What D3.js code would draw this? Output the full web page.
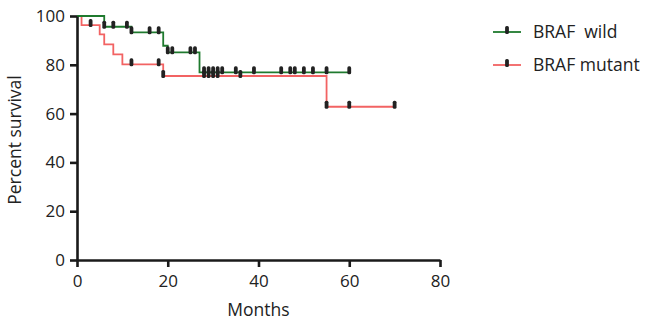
<!DOCTYPE html>
<html>
<head>
<meta charset="utf-8">
<script src="https://cdn.jsdelivr.net/npm/d3@7.9.0/dist/d3.min.js"></script>
<style>
  html, body { margin: 0; padding: 0; background: #fff; }
  svg { display: block; font-family: "Open Sans", "Noto Sans", sans-serif; }
  .axis path, .axis line { stroke: #1a1a1a; stroke-width: 2.6; }
  .axis text { font-size: 17px; fill: #222; font-family: "Open Sans", "Noto Sans", sans-serif; }
  .axis-label { font-size: 17.5px; fill: #222; }
  .legend-text { font-size: 17.5px; fill: #222; white-space: pre; }
</style>
</head>
<body>
<div id="chart"></div>
<script>
// Kaplan-Meier steps: [month, percent surviving]
const wildSteps = [[0, 100], [6, 95.6], [12, 93.3], [19, 87.8], [20, 85.1], [27, 76.9], [60, 76.9]];
const mutantSteps = [[0, 100], [1, 96.3], [5, 92.5], [6, 88.4], [8, 84.3], [10, 80.2], [19, 75.4], [55, 62.8], [70, 62.8]];

// censored observations (months)
const wildCensored = [6, 8, 11, 12, 16, 18, 20, 21, 25, 26, 28, 29, 30, 31, 32, 35, 39, 45, 47, 48, 50, 52, 55, 60];
const mutantCensored = [3, 12, 18, 19, 28, 29, 30, 31, 36, 55, 60, 70];

const xTicks = [0, 20, 40, 60, 80];
const yTicks = [0, 20, 40, 60, 80, 100];

const groups = [
  { name: 'BRAF  wild', steps: wildSteps, censored: wildCensored, color: '#1f7a2e' },
  { name: 'BRAF mutant', steps: mutantSteps, censored: mutantCensored, color: '#f26363' },
];

const width = 649;
const height = 320;

const x = d3.scaleLinear().domain([0, 80]).range([77, 440]);
const y = d3.scaleLinear().domain([0, 100]).range([260, 16]);

const svg = d3.select('#chart').append('svg')
  .attr('width', width)
  .attr('height', height);

function survivalAt(steps, t) {
  let v = steps[0][1];
  for (const [m, s] of steps) if (m <= t) v = s;
  return v;
}

const line = d3.line()
  .x((d) => x(d[0]))
  .y((d) => y(d[1]))
  .curve(d3.curveStepAfter);

// curves, red first so green sits on top
for (const g of [...groups].reverse()) {
  svg.append('path')
    .datum(g.steps)
    .attr('fill', 'none')
    .attr('stroke', g.color)
    .attr('stroke-width', 1.8)
    .attr('d', line);
}

// censor ticks
for (const g of [...groups].reverse()) {
  svg.append('g')
    .selectAll('rect')
    .data(g.censored)
    .join('rect')
    .attr('x', (d) => x(d) - 1.9)
    .attr('y', (d) => y(survivalAt(g.steps, d)) - 6)
    .attr('width', 3.8)
    .attr('height', 8)
    .attr('rx', 1.6)
    .attr('fill', '#222');
}

// axes
svg.append('g')
  .attr('class', 'axis')
  .attr('transform', `translate(0, ${y(0)})`)
  .call(d3.axisBottom(x).tickValues(xTicks).tickSize(7).tickSizeOuter(0).tickPadding(7))
  .call((g) => g.selectAll('text').attr('dy', '0.75em'));

svg.append('g')
  .attr('class', 'axis')
  .attr('transform', `translate(${x(0)}, 0)`)
  .call(d3.axisLeft(y).tickValues(yTicks).tickSize(7).tickSizeOuter(0).tickPadding(5));

svg.append('text')
  .attr('class', 'axis-label')
  .attr('x', (x(0) + x(80)) / 2)
  .attr('y', 316)
  .attr('text-anchor', 'middle')
  .text('Months');

svg.append('text')
  .attr('class', 'axis-label')
  .attr('transform', 'rotate(-90)')
  .attr('x', -140)
  .attr('y', 21)
  .attr('text-anchor', 'middle')
  .text('Percent survival');

// legend
const legend = svg.append('g');
groups.forEach((g, i) => {
  const ly = 32 + i * 33;
  legend.append('line')
    .attr('x1', 493).attr('x2', 521)
    .attr('y1', ly).attr('y2', ly)
    .attr('stroke', g.color)
    .attr('stroke-width', 1.8);
  legend.append('rect')
    .attr('x', 505.1).attr('y', ly - 6)
    .attr('width', 3.8).attr('height', 8)
    .attr('rx', 1.6)
    .attr('fill', '#222');
  legend.append('text')
    .attr('class', 'legend-text')
    .attr('x', 533)
    .attr('y', ly + 6)
    .text(g.name);
});
</script>
</body>
</html>
